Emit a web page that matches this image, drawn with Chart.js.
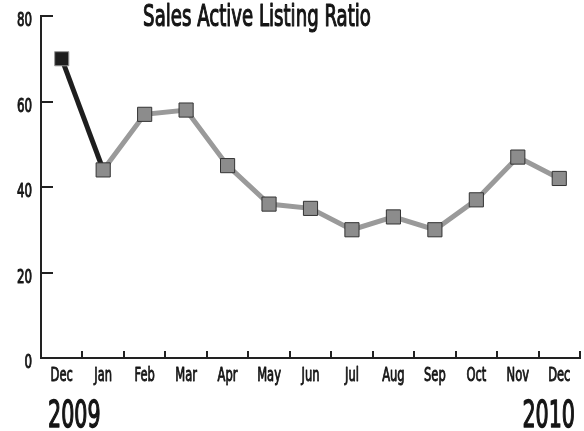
<!DOCTYPE html>
<html>
<head>
<meta charset="utf-8">
<script src="https://cdn.jsdelivr.net/npm/chart.js@4.4.1/dist/chart.umd.min.js"></script>
<style>
html, body { margin: 0; padding: 0; background: #fff; }
#wrap { width: 584px; height: 431px; }
</style>
</head>
<body>
<div id="wrap"><canvas id="chart"></canvas></div>
<script>
// data
const months = ['Dec', 'Jan', 'Feb', 'Mar', 'Apr', 'May', 'Jun', 'Jul', 'Aug', 'Sep', 'Oct', 'Nov', 'Dec'];
const ratio = [70, 44, 57, 58, 45, 36, 35, 30, 33, 30, 37, 47, 42];
const yTicks = [0, 20, 40, 60, 80];
const years = ['2009', '2010'];
const chartTitle = 'Sales Active Listing Ratio';

const FONT = '"Liberation Sans Narrow", "DejaVu Sans Condensed", sans-serif';
const INK = '#151515';

// the original type is a very condensed face, so squeeze horizontally
// (stroke > 0 thickens a regular weight a little, like a "medium")
function squeezedText(ctx, text, x, y, size, weight, align, sx, stroke) {
    ctx.save();
    ctx.font = weight + ' ' + size + 'px ' + FONT;
    ctx.textBaseline = 'alphabetic';
    ctx.textAlign = align;
    ctx.fillStyle = INK;
    ctx.strokeStyle = INK;
    ctx.translate(x, y);
    ctx.scale(sx, 1);
    ctx.fillText(text, 0, 0);
    if (stroke) {
        ctx.lineWidth = stroke;
        ctx.lineJoin = 'round';
        ctx.strokeText(text, 0, 0);
    }
    ctx.restore();
}

// tick marks point into the plot, labels drawn in the condensed type
const axisDecor = {
    id: 'axisDecor',
    beforeDatasetsDraw(chart) {
        const ctx = chart.ctx;
        const xs = chart.scales.x, ys = chart.scales.y;
        const area = chart.chartArea;
        ctx.save();
        ctx.strokeStyle = '#222';
        ctx.lineWidth = 2;
        ctx.beginPath();
        yTicks.forEach(v => {
            if (v === 0) return;
            const py = Math.round(ys.getPixelForValue(v));
            ctx.moveTo(area.left, py);
            ctx.lineTo(area.left + 12, py);
        });
        const n = months.length;
        for (let i = 1; i <= n; i++) {
            const prev = xs.getPixelForValue(i - 1);
            const next = i < n ? xs.getPixelForValue(i) : prev + (prev - xs.getPixelForValue(i - 2));
            const px = Math.round((prev + next) / 2);
            ctx.moveTo(px, area.bottom);
            ctx.lineTo(px, area.bottom - 7);
        }
        ctx.stroke();
        ctx.restore();
    },
    afterDraw(chart) {
        const ctx = chart.ctx;
        const xs = chart.scales.x, ys = chart.scales.y;
        const area = chart.chartArea;

        yTicks.forEach(v => {
            squeezedText(ctx, String(v), area.left - 9, ys.getPixelForValue(v) + 10, 20, 'normal', 'right', 0.66, 1);
        });
        months.forEach((m, i) => {
            squeezedText(ctx, m, xs.getPixelForValue(i), area.bottom + 23, 20, 'normal', 'center', 0.64, 0.9);
        });

        squeezedText(ctx, chartTitle, 257, 26, 31, 'normal', 'center', 0.65, 1.2);
        squeezedText(ctx, years[0], 48, 427, 37, 'normal', 'left', 0.62, 1.4);
        squeezedText(ctx, years[1], 575, 427, 37, 'normal', 'right', 0.62, 1.4);
    }
};

const ctx = document.getElementById('chart').getContext('2d');

let config = {
    type: 'line',
    data: {
        labels: months,
        datasets: [{
            label: chartTitle,
            data: ratio,
            borderColor: '#9a9a9a',
            borderWidth: 5,
            tension: 0,
            clip: false,
            segment: {
                borderColor: c => c.p0DataIndex === 0 ? '#1e1e1e' : '#9a9a9a'
            },
            pointStyle: 'rect',
            pointRadius: 10,
            pointHoverRadius: 10,
            pointBorderWidth: 1,
            pointBackgroundColor: ratio.map((v, i) => i === 0 ? '#1e1e1e' : '#8c8c8c'),
            pointBorderColor: ratio.map((v, i) => i === 0 ? '#9a9a9a' : '#333333'),
        }],
    },
    options: {
        responsive: true,
        maintainAspectRatio: false,
        animation: false,
        layout: {
            autoPadding: false,
            padding: { left: 41, right: 4, top: 16, bottom: 73 },
        },
        plugins: {
            legend: { display: false },
            title: { display: false },
            tooltip: { enabled: false },
        },
        scales: {
            x: {
                type: 'category',
                offset: true,
                grid: { display: false, drawTicks: false, offset: true },
                ticks: { display: false },
                border: { display: true, color: '#222', width: 2 },
            },
            y: {
                min: 0,
                max: 80,
                ticks: { display: false, stepSize: 20 },
                grid: { display: false, drawTicks: false },
                border: { display: true, color: '#222', width: 2 },
            },
        },
    },
    plugins: [axisDecor],
};

let chart = new Chart(ctx, config);
</script>
</body>
</html>
